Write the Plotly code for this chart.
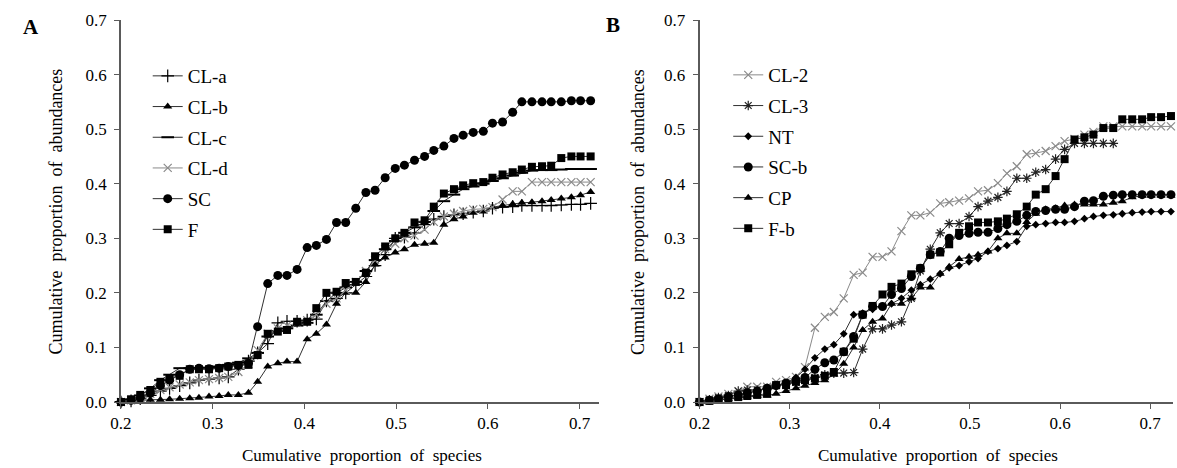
import plotly.graph_objects as go

# ---------------- Panel A data ----------------
xA = [0.200, 0.211, 0.221, 0.232, 0.243, 0.253, 0.264, 0.275, 0.285, 0.296,
      0.307, 0.317, 0.328, 0.339, 0.349, 0.360, 0.371, 0.381, 0.392, 0.403,
      0.413, 0.424, 0.435, 0.445, 0.456, 0.467, 0.477, 0.488, 0.499, 0.509,
      0.520, 0.531, 0.541, 0.552, 0.563, 0.573, 0.584, 0.595, 0.605, 0.616,
      0.627, 0.637, 0.648, 0.659, 0.669, 0.680, 0.691, 0.701, 0.712]

CL_a = [0, 0.002, 0.006, 0.012, 0.02, 0.025, 0.03, 0.035, 0.04, 0.042,
        0.044, 0.046, 0.06, 0.075, 0.09, 0.107, 0.145, 0.148, 0.148, 0.15,
        0.152, 0.185, 0.19, 0.2, 0.215, 0.23, 0.25, 0.27, 0.3, 0.302,
        0.31, 0.325, 0.335, 0.34, 0.343, 0.345, 0.348, 0.35, 0.355, 0.357,
        0.358, 0.36, 0.36, 0.36, 0.36, 0.361, 0.362, 0.362, 0.364]
CL_b = [0, 0.002, 0.003, 0.004, 0.004, 0.005, 0.006, 0.007, 0.008, 0.01,
        0.011, 0.013, 0.013, 0.017, 0.037, 0.065, 0.071, 0.074, 0.074, 0.115,
        0.125, 0.142, 0.18, 0.2, 0.2, 0.22, 0.252, 0.265, 0.274, 0.28,
        0.288, 0.29, 0.292, 0.325, 0.335, 0.34, 0.347, 0.349, 0.357, 0.36,
        0.363, 0.365, 0.366, 0.368, 0.37, 0.373, 0.375, 0.379, 0.385]
CL_c = [0, 0.005, 0.012, 0.025, 0.04, 0.05, 0.062, 0.062, 0.062, 0.063,
        0.065, 0.068, 0.072, 0.08, 0.09, 0.12, 0.13, 0.135, 0.14, 0.145,
        0.16, 0.185, 0.2, 0.21, 0.22, 0.24, 0.26, 0.28, 0.295, 0.31,
        0.32, 0.33, 0.35, 0.368, 0.38, 0.39, 0.395, 0.4, 0.405, 0.41,
        0.415, 0.42, 0.424, 0.425, 0.425, 0.426, 0.427, 0.427, 0.427]
CL_d = [0, 0.003, 0.008, 0.015, 0.022, 0.027, 0.032, 0.036, 0.04, 0.042,
        0.044, 0.046, 0.055, 0.07, 0.095, 0.125, 0.135, 0.14, 0.145, 0.15,
        0.16, 0.18, 0.19, 0.205, 0.22, 0.24, 0.26, 0.28, 0.29, 0.3,
        0.305, 0.316, 0.33, 0.34, 0.345, 0.35, 0.353, 0.354, 0.357, 0.371,
        0.386, 0.386, 0.403, 0.403, 0.403, 0.403, 0.403, 0.403, 0.403]
SC = [0, 0.003, 0.008, 0.016, 0.03, 0.04, 0.05, 0.06, 0.062, 0.061,
      0.062, 0.065, 0.067, 0.071, 0.138, 0.217, 0.232, 0.232, 0.243, 0.283,
      0.287, 0.298, 0.329, 0.329, 0.355, 0.384, 0.388, 0.411, 0.428, 0.434,
      0.443, 0.45, 0.461, 0.469, 0.483, 0.489, 0.494, 0.496, 0.511, 0.513,
      0.531, 0.55, 0.55, 0.55, 0.55, 0.55, 0.552, 0.552, 0.552]
F = [0, 0.005, 0.013, 0.022, 0.037, 0.044, 0.048, 0.06, 0.06, 0.06,
     0.062, 0.065, 0.068, 0.068, 0.086, 0.125, 0.129, 0.132, 0.147, 0.147,
     0.172, 0.2, 0.202, 0.218, 0.22, 0.237, 0.267, 0.285, 0.3, 0.31,
     0.329, 0.333, 0.358, 0.382, 0.39, 0.397, 0.401, 0.403, 0.411, 0.417,
     0.421, 0.426, 0.431, 0.432, 0.433, 0.447, 0.45, 0.45, 0.45]

# ---------------- Panel B data ----------------
xB = [0.200, 0.211, 0.221, 0.232, 0.243, 0.253, 0.264, 0.275, 0.285, 0.296,
      0.307, 0.317, 0.328, 0.339, 0.349, 0.360, 0.371, 0.381, 0.392, 0.403,
      0.413, 0.424, 0.435, 0.445, 0.456, 0.467, 0.477, 0.488, 0.499, 0.509,
      0.520, 0.531, 0.541, 0.552, 0.563, 0.573, 0.584, 0.595, 0.605, 0.616,
      0.627, 0.637, 0.648, 0.659, 0.669, 0.680, 0.691, 0.701, 0.712, 0.723]

CL_2 = [0, 0.006, 0.01, 0.015, 0.02, 0.028, 0.028, 0.028, 0.037, 0.04,
        0.046, 0.064, 0.136, 0.156, 0.165, 0.19, 0.233, 0.237, 0.266, 0.266,
        0.276, 0.313, 0.342, 0.342, 0.347, 0.364, 0.366, 0.369, 0.373, 0.386,
        0.388, 0.401, 0.419, 0.432, 0.454, 0.456, 0.46, 0.469, 0.478, 0.482,
        0.49, 0.495, 0.505, 0.505, 0.505, 0.505, 0.505, 0.505, 0.505, 0.505]
CL_3 = [0, 0.004, 0.008, 0.012, 0.02, 0.022, 0.022, 0.025, 0.03, 0.033,
        0.036, 0.04, 0.045, 0.05, 0.053, 0.053, 0.054, 0.097, 0.134, 0.134,
        0.141, 0.147, 0.19, 0.24, 0.28, 0.31, 0.327, 0.327, 0.34, 0.358,
        0.368, 0.375, 0.386, 0.41, 0.41, 0.421, 0.426, 0.445, 0.463, 0.474,
        0.474, 0.474, 0.474, 0.474]
NT = [0, 0.003, 0.006, 0.01, 0.013, 0.016, 0.02, 0.025, 0.03, 0.035,
      0.045, 0.06, 0.081, 0.097, 0.105, 0.125, 0.16, 0.163, 0.17, 0.175,
      0.18, 0.19, 0.205, 0.215, 0.225, 0.235, 0.246, 0.25, 0.257, 0.263,
      0.276, 0.281, 0.287, 0.294, 0.322, 0.325, 0.327, 0.329, 0.329, 0.331,
      0.336, 0.34, 0.342, 0.343, 0.345, 0.347, 0.348, 0.349, 0.349, 0.349]
SC_b = [0, 0.003, 0.006, 0.01, 0.013, 0.017, 0.02, 0.025, 0.03, 0.035,
        0.04, 0.045, 0.06, 0.072, 0.077, 0.092, 0.12, 0.16, 0.175, 0.175,
        0.197, 0.208, 0.23, 0.245, 0.27, 0.276, 0.3, 0.305, 0.309, 0.311,
        0.311, 0.318, 0.325, 0.331, 0.342, 0.349, 0.351, 0.353, 0.353, 0.358,
        0.368, 0.369, 0.377, 0.379, 0.38, 0.38, 0.38, 0.38, 0.38, 0.38]
CP = [0, 0.002, 0.004, 0.006, 0.008, 0.01, 0.011, 0.012, 0.015, 0.02,
      0.025, 0.03, 0.035, 0.04, 0.05, 0.07, 0.1, 0.132, 0.147, 0.153,
      0.18, 0.18, 0.19, 0.21, 0.21, 0.235, 0.248, 0.262, 0.266, 0.27,
      0.276, 0.3, 0.309, 0.309, 0.33, 0.345, 0.353, 0.355, 0.36, 0.362,
      0.362, 0.362, 0.362, 0.365, 0.368, 0.375, 0.378, 0.378, 0.378, 0.378]
F_b = [0, 0.002, 0.004, 0.006, 0.009, 0.011, 0.013, 0.015, 0.031, 0.031,
       0.037, 0.04, 0.043, 0.048, 0.055, 0.092, 0.116, 0.16, 0.176, 0.197,
       0.211, 0.217, 0.234, 0.245, 0.27, 0.274, 0.289, 0.31, 0.322, 0.329,
       0.329, 0.331, 0.336, 0.344, 0.358, 0.38, 0.39, 0.414, 0.445, 0.481,
       0.485, 0.49, 0.502, 0.502, 0.518, 0.518, 0.518, 0.522, 0.522, 0.524]

W, H = 1177, 468
TOP, BOT = 20, 66
FONT = "Liberation Serif"
DARK = "#303030"
GREY = "#8a8a8a"
NB = "\u00a0"


def px(xp):
    return xp / W


def py(yp):
    return (H - BOT - yp) / (H - TOP - BOT)


fig = go.Figure()


def add(x, y, name, symbol, size, xa, ya, leg, lcolor=DARK, mcolor="black", mline=0):
    fig.add_trace(go.Scatter(
        x=x[:len(y)], y=y, name=name, mode="lines+markers",
        xaxis=xa, yaxis=ya, legend=leg, legendgroup=name,
        line=dict(color=lcolor, width=1),
        marker=dict(symbol=symbol, size=size, color=mcolor,
                    line=dict(color=mcolor, width=mline)),
        cliponaxis=False,
    ))


add(xA, CL_a, "CL-a", "cross-thin", 9, "x", "y", "legend", mline=1.2)
add(xA, CL_b, "CL-b", "triangle-up", 8, "x", "y", "legend")
add(xA, CL_c, "CL-c", "line-ew", 9, "x", "y", "legend", mline=2)
add(xA, CL_d, "CL-d", "x-thin", 8, "x", "y", "legend", lcolor=GREY, mcolor=GREY, mline=1.2)
add(xA, SC, "SC", "circle", 9, "x", "y", "legend")
add(xA, F, "F", "square", 8, "x", "y", "legend")

add(xB, CL_2, "CL-2", "x-thin", 8, "x2", "y2", "legend2", lcolor=GREY, mcolor=GREY, mline=1.2)
add(xB, CL_3, "CL-3", "asterisk", 8, "x2", "y2", "legend2", mcolor="#222", mline=1.2)
add(xB, NT, "NT", "diamond", 6, "x2", "y2", "legend2")
add(xB, SC_b, "SC-b", "circle", 9, "x2", "y2", "legend2")
add(xB, CP, "CP", "triangle-up", 8, "x2", "y2", "legend2")
add(xB, F_b, "F-b", "square", 8, "x2", "y2", "legend2")

axcommon = dict(showgrid=False, zeroline=False, showline=True, linecolor="#5a5a5a",
                linewidth=1.5, ticks="outside", ticklen=5, tickcolor="#5a5a5a",
                tickwidth=1.2, tickfont=dict(family=FONT, size=17, color="black"),
                tickformat=".1f")

xticks = [0.2, 0.3, 0.4, 0.5, 0.6, 0.7]
yticks = [0.0, 0.1, 0.2, 0.3, 0.4, 0.5, 0.6, 0.7]

fig.update_layout(
    width=W, height=H,
    margin=dict(l=0, r=0, t=TOP, b=BOT),
    paper_bgcolor="white", plot_bgcolor="white",
    font=dict(family=FONT, color="black"),
    xaxis=dict(domain=[px(111), px(594)], range=[0.2, 0.7216], tickvals=xticks,
               anchor="y", **axcommon),
    yaxis=dict(domain=[0, 1], range=[0, 0.7], tickvals=yticks, anchor="x",
               ticklabelstandoff=4, **axcommon),
    xaxis2=dict(domain=[px(695), px(1173)], range=[0.2, 0.7253], tickvals=xticks,
                anchor="y2", **axcommon),
    yaxis2=dict(domain=[0, 1], range=[0, 0.7], tickvals=yticks, anchor="x2",
                ticklabelstandoff=4, **axcommon),
    legend=dict(x=px(138), y=py(57), xanchor="left", yanchor="top",
                font=dict(family=FONT, size=19, color="black"),
                tracegroupgap=3, itemwidth=30, bgcolor="rgba(0,0,0,0)"),
    legend2=dict(x=px(724), y=py(56), xanchor="left", yanchor="top",
                 font=dict(family=FONT, size=19, color="black"),
                 tracegroupgap=3, itemwidth=30, bgcolor="rgba(0,0,0,0)"),
    showlegend=True,
)


def note(text, xp, yp, size, angle=0):
    return dict(text=text, x=px(xp), y=py(yp), xref="paper", yref="paper",
                showarrow=False, textangle=angle, font=dict(family=FONT, size=size),
                xanchor="center", yanchor="middle")


xtitle = "Cumulative" + NB * 2 + "proportion" + NB * 2 + "of" + NB * 2 + "species"
ytitle = "Cumulative" + NB * 2 + "proportion" + NB * 2 + "of" + NB * 2 + "abundances"

annos = [
    note("<b>A</b>", 20, 27, 21),
    note("<b>B</b>", 608, 25, 21),
    note(xtitle, 354, 455, 17),
    note(xtitle, 936, 455, 17),
    note(ytitle, 45, 212, 18, -90),
    note(ytitle, 633, 212, 18, -90),
]
fig.update_layout(annotations=annos)

fig.write_html("out.html")
